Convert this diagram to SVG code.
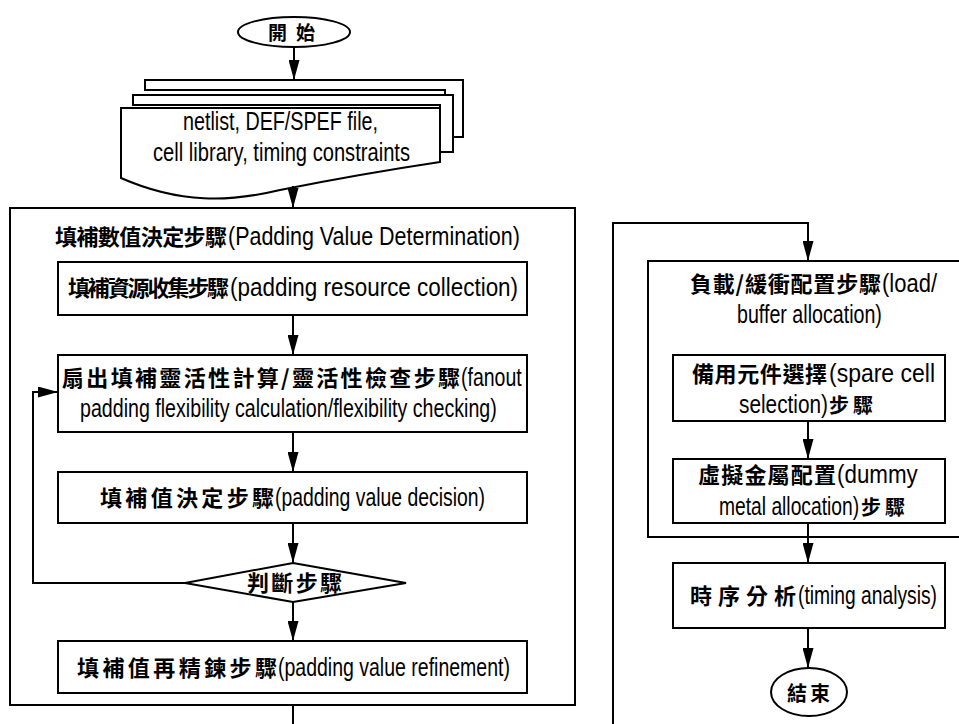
<svg xmlns="http://www.w3.org/2000/svg" width="959" height="724" viewBox="0 0 959 724">
<style>
.s{fill:#fff;stroke:#000;stroke-width:2}
.c{fill:none;stroke:#000;stroke-width:2}
text{font-family:"Liberation Sans",Arial,sans-serif;font-size:26px;fill:#000}
text.k{font-family:"Noto Sans CJK TC","Noto Sans CJK SC",sans-serif;font-weight:bold;font-size:22px}
</style>
<defs>
<marker id="a" markerUnits="userSpaceOnUse" markerWidth="20" markerHeight="11" refX="20" refY="5.5" orient="auto">
<path d="M0,0 L20,5.5 L0,11 z" fill="#000"/>
</marker>
</defs>
<rect width="959" height="724" fill="#fff"/>

<g id="start">
<ellipse class="s" cx="294" cy="32" rx="56" ry="15"/>
<text x="268" y="40" textLength="47" lengthAdjust="spacing" class="k" style="font-size:19px">開始</text>
</g>

<g id="input">
<path class="s" d="M145,80 H463 V137 H445 V90 H145 Z"/>
<path class="s" d="M133,95 H453 V152 H440 V105 H133 Z"/>
<path class="s" d="M121,108 H440 V162 C400,168 330,180 280,190 C230,202 180,204 121,178 Z"/>
<text transform="translate(183,130) scale(0.758,1)" textLength="257.2" lengthAdjust="spacingAndGlyphs">netlist, DEF/SPEF file,</text>
<text transform="translate(153,161) scale(0.77,1)" textLength="333.8" lengthAdjust="spacingAndGlyphs">cell library, timing constraints</text>
</g>

<g id="padding-value-determination">
<rect class="s" x="10" y="208" width="565" height="497" fill="none"/>
<text class="k" x="55" y="245" textLength="172" lengthAdjust="spacing">填補數值決定步驟</text>
<text transform="translate(228,245) scale(0.821,1)" textLength="355.5" lengthAdjust="spacingAndGlyphs">(Padding Value Determination)</text>
</g>

<g id="resource-collection">
<rect class="s" x="58" y="262" width="469" height="53"/>
<text class="k" x="68" y="296" textLength="161" lengthAdjust="spacing">填補資源收集步驟</text>
<text transform="translate(230,296) scale(0.863,1)" textLength="333.8" lengthAdjust="spacingAndGlyphs">(padding resource collection)</text>
</g>

<g id="flexibility">
<rect class="s" x="58" y="355" width="469" height="77"/>
<text class="k" x="62" y="386" textLength="398" lengthAdjust="spacing">扇出填補靈活性計算/靈活性檢查步驟</text>
<text transform="translate(461,386) scale(0.75,1)" textLength="80.9" lengthAdjust="spacingAndGlyphs">(fanout</text>
<text transform="translate(80,417) scale(0.755,1)" textLength="552" lengthAdjust="spacingAndGlyphs">padding flexibility calculation/flexibility checking)</text>
</g>

<g id="value-decision">
<rect class="s" x="58" y="472" width="469" height="51"/>
<text class="k" x="100" y="506" textLength="174" lengthAdjust="spacing">填補值決定步驟</text>
<text transform="translate(275,506) scale(0.745,1)" textLength="281.8" lengthAdjust="spacingAndGlyphs">(padding value decision)</text>
</g>

<g id="judge">
<path class="s" d="M293,563 L406,583 L293,602 L185,583 Z"/>
<text x="247" y="591" textLength="95" lengthAdjust="spacing" class="k">判斷步驟</text>
</g>

<g id="value-refinement">
<rect class="s" x="58" y="641" width="469" height="52"/>
<text class="k" x="77" y="676" textLength="200" lengthAdjust="spacing">填補值再精鍊步驟</text>
<text transform="translate(278,676) scale(0.75,1)" textLength="309.2" lengthAdjust="spacingAndGlyphs">(padding value refinement)</text>
</g>

<g id="load-buffer">
<rect class="s" x="648" y="261" width="320" height="276" fill="none"/>
<text class="k" x="690" y="292" textLength="191" lengthAdjust="spacing">負載/緩衝配置步驟</text>
<text transform="translate(882,292) scale(0.846,1)" textLength="65" lengthAdjust="spacingAndGlyphs">(load/</text>
<text transform="translate(737,323) scale(0.754,1)" textLength="192.2" lengthAdjust="spacingAndGlyphs">buffer allocation)</text>
</g>

<g id="spare-cell">
<rect class="s" x="673" y="355" width="272" height="66"/>
<text class="k" x="692" y="382" textLength="135" lengthAdjust="spacing">備用元件選擇</text>
<text transform="translate(829,382) scale(0.884,1)" textLength="119.9" lengthAdjust="spacingAndGlyphs">(spare cell</text>
<text transform="translate(739,413) scale(0.8,1)" textLength="111.3" lengthAdjust="spacingAndGlyphs">selection)</text>
<text class="k" x="829" y="413" textLength="44" lengthAdjust="spacing" style="font-size:20px">步驟</text>
</g>

<g id="dummy-metal">
<rect class="s" x="673" y="459" width="272" height="64"/>
<text class="k" x="698" y="483" textLength="138" lengthAdjust="spacing">虛擬金屬配置</text>
<text transform="translate(837,483) scale(0.86,1)" textLength="93.9" lengthAdjust="spacingAndGlyphs">(dummy</text>
<text transform="translate(719,515) scale(0.74,1)" textLength="189.3" lengthAdjust="spacingAndGlyphs">metal allocation)</text>
<text class="k" x="861" y="515" textLength="44" lengthAdjust="spacing" style="font-size:20px">步驟</text>
</g>

<g id="timing">
<rect class="s" x="673" y="563" width="272" height="65"/>
<text class="k" x="690" y="604" textLength="106" lengthAdjust="spacing">時序分析</text>
<text transform="translate(798,604) scale(0.74,1)" textLength="187.8" lengthAdjust="spacingAndGlyphs">(timing analysis)</text>
</g>

<g id="end">
<ellipse class="s" cx="809" cy="692" rx="38" ry="24"/>
<text x="787" y="701" textLength="43" lengthAdjust="spacing" class="k" style="font-size:20px">結束</text>
</g>

<g id="connectors">
<path class="c" d="M294,47 V80" marker-end="url(#a)"/>
<path class="c" d="M293,186 V208" marker-end="url(#a)"/>
<path class="c" d="M293,315 V355" marker-end="url(#a)"/>
<path class="c" d="M293,432 V472" marker-end="url(#a)"/>
<path class="c" d="M293,523 V563" marker-end="url(#a)"/>
<path class="c" d="M293,602 V641" marker-end="url(#a)"/>
<path class="c" d="M185,583 H33 V392 H58" marker-end="url(#a)"/>
<path class="c" d="M293,705 V724"/>
<path class="c" d="M613,724 V223 H808 V261" marker-end="url(#a)"/>
<path class="c" d="M808,421 V459" marker-end="url(#a)"/>
<path class="c" d="M808,523 V563" marker-end="url(#a)"/>
<path class="c" d="M808,628 V668" marker-end="url(#a)"/>
</g>
</svg>
